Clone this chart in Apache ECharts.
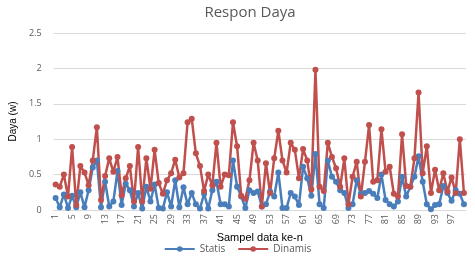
<!DOCTYPE html>
<html>
<head>
<meta charset="utf-8">
<script src="https://cdn.jsdelivr.net/npm/echarts@6/dist/echarts.min.js"></script>
<style>
  html, body { margin: 0; padding: 0; background: #fff; }
  #chart { width: 475px; height: 259px; }
</style>
</head>
<body>
<div id="chart"></div>
<script>
  // sampel 1..100
  var categories = [];
  for (var i = 1; i <= 100; i++) categories.push(String(i));

  var statis = [
    0.17, 0.04, 0.22, 0.03, 0.20, 0.04, 0.25, 0.04, 0.28, 0.60,
    0.70, 0.04, 0.40, 0.05, 0.12, 0.55, 0.07, 0.37, 0.28, 0.05,
    0.24, 0.02, 0.33, 0.12, 0.36, 0.03, 0.02, 0.25, 0.05, 0.42,
    0.04, 0.32, 0.08, 0.24, 0.08, 0.02, 0.23, 0.02, 0.28, 0.40,
    0.08, 0.08, 0.05, 0.70, 0.33, 0.19, 0.03, 0.28, 0.24, 0.26,
    0.05, 0.08, 0.26, 0.19, 0.53, 0.03, 0.03, 0.24, 0.19, 0.07,
    0.61, 0.45, 0.20, 0.79, 0.08, 0.03, 0.70, 0.47, 0.40, 0.28,
    0.24, 0.03, 0.08, 0.42, 0.23, 0.24, 0.27, 0.23, 0.17, 0.50,
    0.14, 0.08, 0.05, 0.12, 0.47, 0.19, 0.33, 0.47, 0.76, 0.40,
    0.08, 0.01, 0.07, 0.08, 0.34, 0.24, 0.13, 0.28, 0.23, 0.08
  ];

  var dinamis = [
    0.36, 0.33, 0.50, 0.19, 0.89, 0.07, 0.62, 0.53, 0.35, 0.70,
    1.17, 0.14, 0.48, 0.73, 0.54, 0.75, 0.21, 0.45, 0.62, 0.12,
    0.89, 0.12, 0.73, 0.30, 0.85, 0.38, 0.23, 0.42, 0.52, 0.71,
    0.46, 0.52, 1.24, 1.29, 0.80, 0.62, 0.27, 0.50, 0.35, 0.95,
    0.33, 0.50, 0.49, 1.24, 0.90, 0.20, 0.16, 0.42, 0.95, 0.70,
    0.05, 0.66, 0.24, 0.73, 1.12, 0.70, 0.53, 0.95, 0.85, 0.45,
    0.86, 0.70, 0.29, 1.98, 0.33, 0.27, 0.95, 0.75, 0.59, 0.33,
    0.73, 0.08, 0.47, 0.68, 0.19, 0.68, 1.20, 0.40, 0.42, 1.14,
    0.54, 0.61, 0.23, 0.19, 1.07, 0.34, 0.33, 0.73, 1.66, 0.52,
    0.90, 0.24, 0.57, 0.28, 0.52, 0.26, 0.46, 0.24, 1.00, 0.24
  ];

  var chart = echarts.init(document.getElementById("chart"));

  chart.setOption({
    animation: false,
    title: {
      text: "Respon Daya",
      left: 245,
      top: 0,
      textAlign: "center",
      textStyle: {
        color: "#595959",
        fontFamily: "Open Sans",
        fontSize: 15,
        fontWeight: "normal"
      }
    },
    legend: {
      bottom: 0,
      left: "center",
      itemWidth: 30,
      itemHeight: 7,
      itemGap: 12,
      textStyle: { color: "#595959", fontFamily: "Open Sans", fontSize: 10 },
      data: ["Statis", "Dinamis"]
    },
    grid: {
      left: 42,
      right: 9,
      top: 33,
      bottom: 49
    },
    xAxis: {
      type: "category",
      data: categories,
      name: "Sampel data ke-n",
      nameLocation: "middle",
      nameGap: 21,
      nameTextStyle: { color: "#000", fontFamily: "Liberation Sans", fontSize: 11 },
      axisLine: { lineStyle: { color: "#d9d9d9" } },
      axisTick: { show: false },
      axisLabel: {
        interval: 3,
        rotate: 90,
        margin: 4,
        color: "#595959",
        fontFamily: "Open Sans",
        fontSize: 9
      }
    },
    yAxis: {
      type: "value",
      min: 0,
      max: 2.5,
      interval: 0.5,
      name: "Daya (w)",
      nameLocation: "middle",
      nameGap: 32,
      nameTextStyle: { color: "#000", fontFamily: "Liberation Sans", fontSize: 10 },
      axisLabel: {
        color: "#595959",
        fontFamily: "Open Sans",
        fontSize: 9,
        margin: 12
      },
      splitLine: { lineStyle: { color: "#d9d9d9" } }
    },
    series: [
      {
        name: "Statis",
        type: "line",
        data: statis,
        symbol: "circle",
        symbolSize: 6,
        showAllSymbol: true,
        itemStyle: { color: "#4A7EBB" },
        lineStyle: { width: 2.5, color: "#4A7EBB" }
      },
      {
        name: "Dinamis",
        type: "line",
        data: dinamis,
        symbol: "circle",
        symbolSize: 6,
        showAllSymbol: true,
        itemStyle: { color: "#C0504D" },
        lineStyle: { width: 2.5, color: "#C0504D" }
      }
    ]
  });
</script>
</body>
</html>
